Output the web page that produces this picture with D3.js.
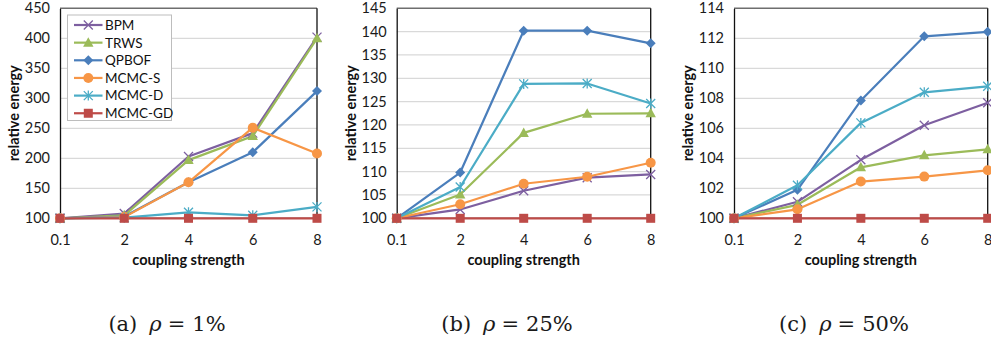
<!DOCTYPE html>
<html><head><meta charset="utf-8">
<script src="https://cdn.jsdelivr.net/npm/d3@7"></script>
<style>
html,body{margin:0;padding:0;background:#fff;}
svg{display:block;}
</style></head>
<body>
<svg id="chart" width="991" height="345"></svg>
<script>
const categories = ["0.1","2","4","6","8"];
const seriesNames = ["BPM","TRWS","QPBOF","MCMC-S","MCMC-D","MCMC-GD"];
const seriesColors = ["#7D5FA0","#9BBB59","#4A7EBB","#F79646","#4BACC6","#BE4B48"];
const seriesMarkers = ["x","triangle","diamond","circle","star","square"];

// panel (a) rho = 1%
const bpmA    = [100,108,203,242,402];
const trwsA   = [100,105,197,237,400];
const qpbofA  = [100,103,160,210,312];
const mcmcSA  = [100,102,160,251,208];
const mcmcDA  = [100,101,110,105,119];
const mcmcGDA = [100,100,100,100,100];
// panel (b) rho = 25%
const bpmB    = [100,101.9,105.9,108.7,109.4];
const trwsB   = [100,105.1,118.3,122.4,122.5];
const qpbofB  = [100,109.8,140.2,140.2,137.5];
const mcmcSB  = [100,103.0,107.4,108.9,111.9];
const mcmcDB  = [100,106.7,128.8,128.9,124.6];
const mcmcGDB = [100,100,100,100,100];
// panel (c) rho = 50%
const bpmC    = [100,101.1,103.9,106.2,107.7];
const trwsC   = [100,100.9,103.4,104.2,104.6];
const qpbofC  = [100,101.9,107.85,112.13,112.43];
const mcmcSC  = [100,100.6,102.45,102.78,103.2];
const mcmcDC  = [100,102.2,106.36,108.4,108.8];
const mcmcGDC = [100,100,100,100,100];

const yTicksA = [100,150,200,250,300,350,400,450];
const yTicksB = [100,105,110,115,120,125,130,135,140,145];
const yTicksC = [100,102,104,106,108,110,112,114];

const xTitle = "coupling strength";
const yTitle = "relative energy";
const captionLabels = ["(a)","(b)","(c)"];
const captionValues = ["1%","25%","50%"];

const panels = [
  {left:60, right:317, series:[bpmA,trwsA,qpbofA,mcmcSA,mcmcDA,mcmcGDA], ticks:yTicksA, legend:true, capX:167},
  {left:396.7, right:650.7, series:[bpmB,trwsB,qpbofB,mcmcSB,mcmcDB,mcmcGDB], ticks:yTicksB, legend:false, capX:507},
  {left:734, right:987.7, series:[bpmC,trwsC,qpbofC,mcmcSC,mcmcDC,mcmcGDC], ticks:yTicksC, legend:false, capX:844}
];
const plotTop = 8.3, plotBottom = 218.3;
const FONT = "Lato, 'Open Sans', sans-serif";
const svg = d3.select("#chart");

function drawMarker(g, type, x, y, color) {
  const s = 4.5;
  if (type === "x") {
    g.append("path").attr("d",`M${x-s},${y-s}L${x+s},${y+s}M${x-s},${y+s}L${x+s},${y-s}`)
      .attr("stroke",color).attr("stroke-width",1.3).attr("fill","none");
  } else if (type === "star") {
    g.append("path").attr("d",`M${x-s},${y-s}L${x+s},${y+s}M${x-s},${y+s}L${x+s},${y-s}M${x},${y-s-0.5}L${x},${y+s+0.5}`)
      .attr("stroke",color).attr("stroke-width",1.3).attr("fill","none");
  } else if (type === "triangle") {
    g.append("path").attr("d",`M${x},${y-5.5}L${x+5.2},${y+4}L${x-5.2},${y+4}Z`).attr("fill",color);
  } else if (type === "diamond") {
    g.append("path").attr("d",`M${x},${y-5}L${x+5},${y}L${x},${y+5}L${x-5},${y}Z`).attr("fill",color);
  } else if (type === "circle") {
    g.append("circle").attr("cx",x).attr("cy",y).attr("r",5).attr("fill",color);
  } else if (type === "square") {
    g.append("rect").attr("x",x-4.5).attr("y",y-4.5).attr("width",9).attr("height",9).attr("fill",color);
  }
}

panels.forEach((p, pi) => {
  const g = svg.append("g");
  const x = d3.scalePoint().domain(categories).range([p.left, p.right]).padding(0);
  const y = d3.scaleLinear().domain([p.ticks[0], p.ticks[p.ticks.length-1]]).range([plotBottom, plotTop]);

  // gridlines
  g.append("g").selectAll("line").data(p.ticks.slice(1,-1)).join("line")
    .attr("x1",p.left).attr("x2",p.right).attr("y1",d=>y(d)).attr("y2",d=>y(d))
    .attr("stroke","#d9d9d9").attr("stroke-width",1.2);
  // top border
  g.append("line").attr("x1",p.left).attr("x2",p.right).attr("y1",plotTop).attr("y2",plotTop)
    .attr("stroke","#6e6e6e").attr("stroke-width",1.5);
  // right border
  g.append("line").attr("x1",p.right).attr("x2",p.right).attr("y1",plotTop).attr("y2",plotBottom)
    .attr("stroke","#111").attr("stroke-width",1.3);
  // bottom axis line
  g.append("line").attr("x1",p.left).attr("x2",p.right).attr("y1",plotBottom).attr("y2",plotBottom)
    .attr("stroke","#111").attr("stroke-width",1.3);

  // y axis
  const ya = g.append("g").attr("transform",`translate(${p.left},0)`)
    .call(d3.axisLeft(y).tickValues(p.ticks).tickSize(0).tickPadding(10).tickFormat(d3.format("d")));
  ya.select(".domain").attr("stroke","#111").attr("stroke-width",1.3);
  ya.selectAll("text").attr("font-family",FONT).attr("font-size",14.5).attr("fill","#1a1a1a");

  // x axis labels
  const xa = g.append("g").attr("transform",`translate(0,${plotBottom})`)
    .call(d3.axisBottom(x).tickSize(0).tickPadding(16));
  xa.select(".domain").remove();
  xa.selectAll("text").attr("font-family",FONT).attr("font-size",14.5).attr("fill","#1a1a1a");

  // titles
  g.append("text").attr("x",(p.left+p.right)/2).attr("y",265).attr("text-anchor","middle")
    .attr("font-family",FONT).attr("font-weight","bold").attr("font-size",14.5).attr("fill","#111").text(xTitle);
  g.append("text").attr("transform",`translate(${p.left-41},${(plotTop+plotBottom)/2}) rotate(-90)`)
    .attr("text-anchor","middle").attr("font-family",FONT).attr("font-weight","bold")
    .attr("font-size",14.5).attr("fill","#111").text(yTitle);

  // series
  const line = d3.line().x((d,i)=>x(categories[i])).y(d=>y(d));
  p.series.forEach((vals, si) => {
    g.append("path").datum(vals).attr("d",line).attr("fill","none")
      .attr("stroke",seriesColors[si]).attr("stroke-width",2.2).attr("stroke-linejoin","round");
  });
  p.series.forEach((vals, si) => {
    vals.forEach((v,i) => drawMarker(g, seriesMarkers[si], x(categories[i]), y(v), seriesColors[si]));
  });

  // legend
  if (p.legend) {
    const lg = g.append("g");
    lg.append("rect").attr("x",67.5).attr("y",15).attr("width",104).attr("height",105.5)
      .attr("fill","#fff").attr("stroke","#bdbdbd").attr("stroke-width",1);
    seriesNames.forEach((n, si) => {
      const cy = 25 + si*17.65;
      lg.append("line").attr("x1",74).attr("x2",102.5).attr("y1",cy).attr("y2",cy)
        .attr("stroke",seriesColors[si]).attr("stroke-width",2.2);
      drawMarker(lg, seriesMarkers[si], 88.3, cy, seriesColors[si]);
      lg.append("text").attr("x",105).attr("y",cy).attr("dy","0.36em")
        .attr("font-family",FONT).attr("font-size",13.5).attr("fill","#111").text(n);
    });
  }

  // caption
  const cap = svg.append("text").attr("x",p.capX).attr("y",331).attr("text-anchor","middle")
    .attr("font-family","'DejaVu Serif', 'Liberation Serif', serif").attr("font-size",21).attr("fill","#1a1a1a");
  cap.append("tspan").text(captionLabels[pi]);
  cap.append("tspan").attr("dx",12).attr("font-style","italic").text("ρ");
  cap.append("tspan").attr("dx",6).text("=");
  cap.append("tspan").attr("dx",7).text(captionValues[pi]);
});
</script>
</body></html>
